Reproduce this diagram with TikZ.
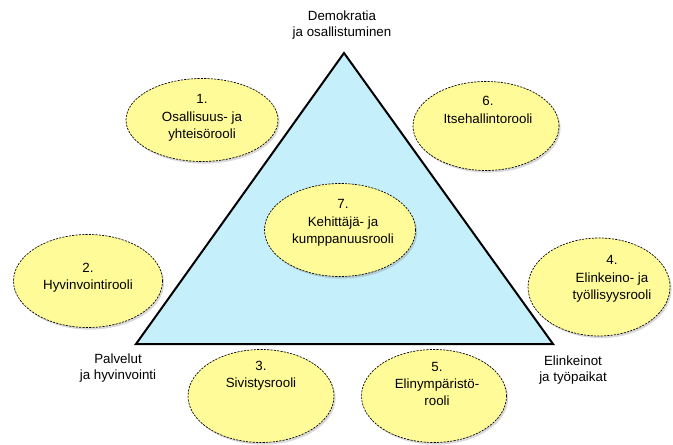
\documentclass[tikz,border=0pt]{standalone}
\usepackage{fontspec}
\setmainfont{Liberation Sans}
\usepackage{tikz}
\usetikzlibrary{shapes.geometric,shadows}
\definecolor{roleyellow}{RGB}{255,251,153}
\definecolor{trianglecyan}{RGB}{198,239,252}
\tikzset{
	role/.style={ellipse, draw=black, line width=0.5pt, dash pattern=on 1.6pt off 0.9pt, fill=roleyellow,
		drop shadow={opacity=0.3, shadow xshift=1.2pt, shadow yshift=-1.6pt}, inner sep=0pt},
	roletext/.style={align=center, font=\fontsize{10}{13}\selectfont},
	corner/.style={align=center, font=\fontsize{10}{12}\selectfont}
}

\begin{document}
\begin{tikzpicture}[x=0.75pt, y=-0.75pt]
			%%%%% START %%%%%
			
			\useasboundingbox (0, 0) rectangle (673, 445);
			
			\draw[line width=1.5pt, line join=miter, fill=trianglecyan] (344, 53) -- (136, 344) -- (553, 344) -- cycle;
			
			\node[corner] (demokratia) at (342, 25) {Demokratia\\ja osallistuminen};
			\node[corner] (palvelut) at (118, 368) {Palvelut\\ja hyvinvointi};
			\node[corner] (elinkeinot) at (573, 370) {Elinkeinot\\ja työpaikat};
			
			\node[role, minimum width=152*0.75pt, minimum height=83*0.75pt] (r1) at (202, 120) {};
			\node[roletext] (t1) at (202, 118) {1.\\Osallisuus- ja\\yhteisörooli};
			
			\node[role, minimum width=149*0.75pt, minimum height=93*0.75pt] (r2) at (88, 281) {};
			\node[roletext] (t2) at (88, 278) {2.\\Hyvinvointirooli};
			
			\node[role, minimum width=146*0.75pt, minimum height=93*0.75pt] (r3) at (261, 396) {};
			\node[roletext] (t3) at (261, 376) {3.\\Sivistysrooli};
			
			\node[role, minimum width=142*0.75pt, minimum height=98*0.75pt] (r4) at (599, 287) {};
			\node[roletext] (t4) at (612, 279) {4.\\Elinkeino- ja\\työllisyysrooli};
			
			\node[role, minimum width=145*0.75pt, minimum height=93*0.75pt] (r5) at (434, 396) {};
			\node[roletext] (t5) at (437, 384) {5.\\Elinympäristö-\\rooli};
			
			\node[role, minimum width=146*0.75pt, minimum height=89*0.75pt] (r6) at (486, 126) {};
			\node[roletext] (t6) at (488, 110) {6.\\Itsehallintorooli};
			
			\node[role, minimum width=151*0.75pt, minimum height=93*0.75pt] (r7) at (340, 230) {};
			\node[roletext] (t7) at (343, 223) {7.\\Kehittäjä- ja\\kumppanuusrooli};
			
			%%%%% END %%%%%
		\end{tikzpicture}
\end{document}
